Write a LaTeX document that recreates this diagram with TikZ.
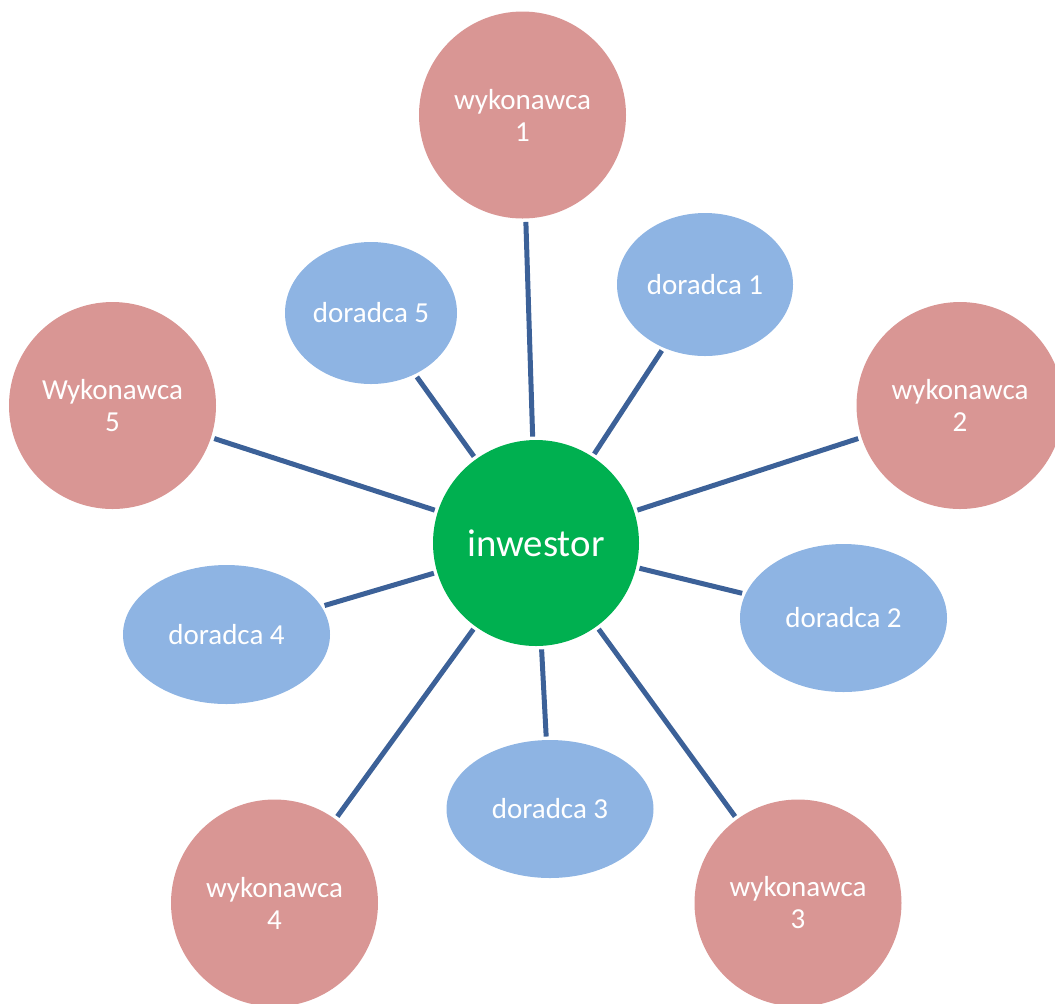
\documentclass[tikz,border=0pt]{standalone}
\usepackage{fontspec}
\setmainfont{Carlito}
\usetikzlibrary{shapes.geometric}
\definecolor{wykred}{HTML}{D99694}
\definecolor{dorblue}{HTML}{8EB4E3}
\definecolor{invgreen}{HTML}{00B050}
\definecolor{linkblue}{HTML}{3C6198}
\begin{document}
\begin{tikzpicture}[x=0.5pt,y=-0.5pt,
  wyk/.style={circle, fill=wykred, text=white, minimum size=103.5pt, inner sep=0pt, outer sep=0pt, align=center, font=\fontsize{14.5}{16}\selectfont},
  dor/.style={ellipse, fill=dorblue, text=white, minimum width=103.5pt, minimum height=71pt, inner sep=0pt, outer sep=0pt, font=\fontsize{14.5}{16}\selectfont},
  link/.style={draw=linkblue, line width=2.5pt, shorten <=1.75pt, shorten >=1.75pt}]
\useasboundingbox (0,0) rectangle (1055,1003);
\clip (0,0) rectangle (1055,1003);
\node[circle, fill=invgreen, text=white, minimum size=103pt, inner sep=0pt, outer sep=0pt, font=\fontsize{19.4}{22}\selectfont] (inv) at (536,543){inwestor};
\node[wyk] (wyk1) at (522.5,115){wykonawca\\1};
\node[wyk] (wyk2) at (960,405.5){wykonawca\\2};
\node[wyk] (wyk3) at (798,903){wykonawca\\3};
\node[wyk] (wyk4) at (274.5,903){wykonawca\\4};
\node[wyk] (wyk5) at (112.5,405.5){Wykonawca\\5};
\node[dor, minimum width=88pt, minimum height=71.5pt] (dor1) at (705,284.5){doradca 1};
\node[dor, minimum height=74pt] (dor2) at (843.5,618){doradca 2};
\node[dor, minimum height=69pt] (dor3) at (550,809){doradca 3};
\node[dor, minimum height=69.5pt] (dor4) at (226.5,634.5){doradca 4};
\node[dor, minimum width=86pt, minimum height=71pt] (dor5) at (371,313){doradca 5};
\draw[link](inv) -- (wyk1);
\draw[link](inv) -- (dor1);
\draw[link](inv) -- (wyk2);
\draw[link](inv) -- (dor2);
\draw[link](inv) -- (wyk3);
\draw[link](inv) -- (dor3);
\draw[link](inv) -- (wyk4);
\draw[link](inv) -- (dor4);
\draw[link](inv) -- (wyk5);
\draw[link](inv) -- (dor5);

\end{tikzpicture}
\end{document}
